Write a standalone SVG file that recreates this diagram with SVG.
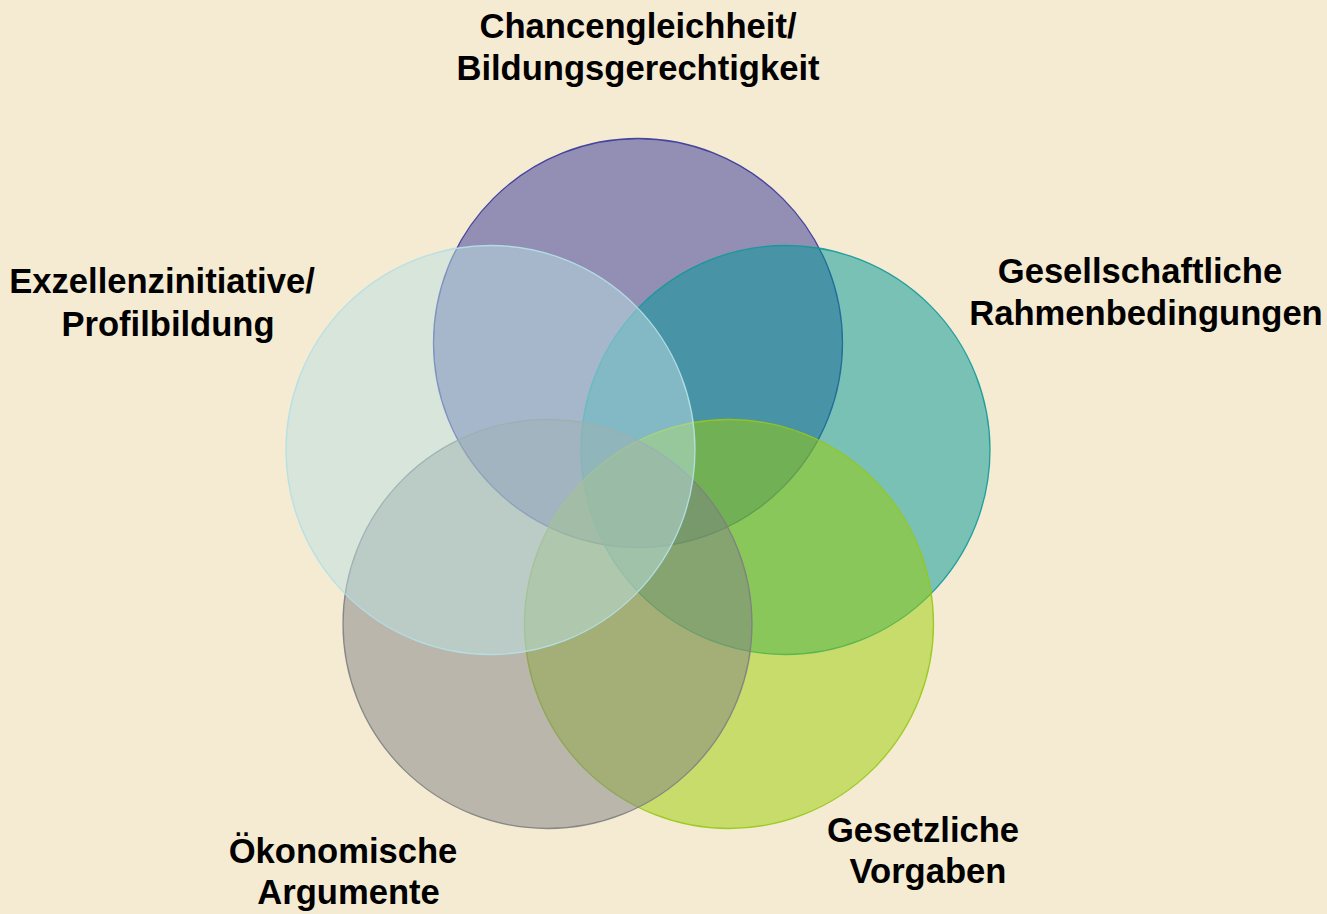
<svg xmlns="http://www.w3.org/2000/svg" width="1327" height="914" viewBox="0 0 1327 914">
<style>
.c{stroke-width:1.3}
.t{font-family:"Liberation Sans",Arial,sans-serif;font-weight:bold;font-size:34.6px;fill:#000;text-anchor:middle}
</style>
<rect width="1327" height="914" fill="#F5EBD2"/>
<g id="node-chancen">
<circle class="c" cx="638" cy="343" r="204.5" fill="#313196" fill-opacity="0.5" stroke="#36369a" stroke-opacity="0.9"/>
<text class="t" x="638" y="38">Chancengleichheit/</text>
<text class="t" x="638" y="80">Bildungsgerechtigkeit</text>
</g>
<g id="node-gesellschaft">
<circle class="c" cx="785.5" cy="450" r="204.5" fill="#009798" fill-opacity="0.5" stroke="#0f999a" stroke-opacity="0.9"/>
<text class="t" x="1140" y="283">Gesellschaftliche</text>
<text class="t" x="1146" y="325">Rahmenbedingungen</text>
</g>
<g id="node-gesetz">
<circle class="c" cx="729" cy="624" r="204.5" fill="#99CD02" fill-opacity="0.5" stroke="#95c81a" stroke-opacity="0.9"/>
<text class="t" x="923" y="842">Gesetzliche</text>
<text class="t" x="928" y="883">Vorgaben</text>
</g>
<g id="node-oekonom">
<circle class="c" cx="547.5" cy="624" r="204.5" fill="#7F8184" fill-opacity="0.5" stroke="#7d7f82" stroke-opacity="0.9"/>
<text class="t" x="343" y="863">Ökonomische</text>
<text class="t" x="348.5" y="904">Argumente</text>
</g>
<g id="node-exzellenz">
<circle class="c" cx="490.5" cy="450" r="204.5" fill="#BBDFE2" fill-opacity="0.5" stroke="#b3dfe6" stroke-opacity="0.95"/>
<text class="t" x="162" y="293">Exzellenzinitiative/</text>
<text class="t" x="168" y="336">Profilbildung</text>
</g>
<g id="connectors"></g>
</svg>
